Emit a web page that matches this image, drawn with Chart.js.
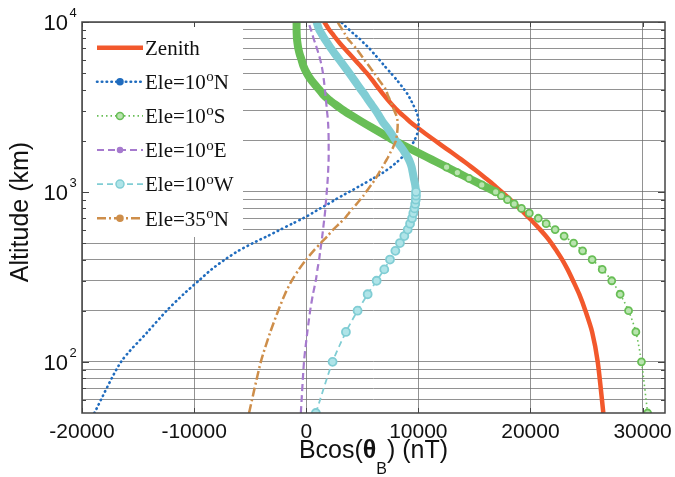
<!DOCTYPE html>
<html>
<head>
<meta charset="utf-8">
<script src="https://cdn.jsdelivr.net/npm/chart.js@4.4.1/dist/chart.umd.min.js"></script>
<style>
    html, body { margin: 0; padding: 0; background: #fff; }
</style>
</head>
<body>
<canvas id="chart-area" width="675" height="477"></canvas>
<script>
// altitude samples (km)
var altKm = [50, 100, 150, 200, 250, 300, 350, 400, 450, 500, 550, 600, 650, 700, 750, 800, 850, 900, 950, 1000,
    1100, 1200, 1300, 1400, 1500, 1600, 1700, 1800, 1900, 2000,
    2200, 2400, 2600, 2800, 3000, 3250, 3500, 3750, 4000,
    4500, 5000, 5500, 6000, 6500, 7000, 7500, 8000, 8500, 9000, 9500, 10000];

// Bcos(theta_B) in nT for each look direction
var zenith = [26500, 26000, 25500, 24900, 24350, 23800, 23310, 22830, 22330, 21860, 21370, 20870, 20380, 19910, 19450, 19030, 18620, 18210, 17820, 17440,
    16730, 16030, 15370, 14740, 14140, 13560, 13010, 12480, 11980, 11510,
    10640, 9880, 9220, 8670, 8180, 7680, 7250, 6870, 6540,
    5950, 5400, 4850, 4330, 3850, 3400, 3000, 2650, 2350, 2050, 1820, 1610];
var ele10N = [-18900, -16520, -14150, -12450, -10950, -9600, -8450, -7250, -6050, -4750, -3450, -2300, -1250, -270, 540, 1250, 1960, 2590, 3210, 3840,
    4950, 5950, 6850, 7550, 8100, 8550, 8950, 9250, 9450, 9640,
    9900, 10000, 10020, 9950, 9790, 9550, 9300, 9050, 8750,
    8150, 7560, 7000, 6520, 6050, 5630, 5150, 4730, 4250, 3840, 3450, 3100];
var ele10S = [30450, 29900, 29400, 28750, 28000, 27250, 26400, 25500, 24650, 23850, 23000, 22200, 21400, 20700, 19900, 19200, 18550, 17950, 17400, 16900,
    15660, 14520, 13480, 12520, 11620, 10780, 9990, 9240, 8540, 7870,
    6800, 5800, 4900, 4100, 3390, 2650, 2000, 1500, 1160,
    500, 50, -250, -420, -590, -710, -780, -830, -850, -860, -860, -860];
var ele10E = [-480, -200, 100, 350, 600, 850, 1000, 1150, 1250, 1350, 1430, 1500, 1560, 1620, 1670, 1710, 1740, 1770, 1800, 1830,
    1880, 1920, 1950, 1970, 1990, 2000, 2000, 2000, 2000, 2000,
    1990, 1970, 1940, 1900, 1850, 1800, 1750, 1710, 1670,
    1580, 1490, 1380, 1250, 1100, 950, 800, 650, 540, 420, 300, 180];
var ele10W = [860, 2350, 3540, 4580, 5480, 6280, 6960, 7470, 7950, 8360, 8750, 9050, 9260, 9440, 9550, 9650, 9720, 9770, 9790, 9790,
    9720, 9600, 9500, 9400, 9250, 9050, 8800, 8550, 8280, 8000,
    7600, 7200, 6800, 6500, 6220, 5850, 5500, 5200, 4880,
    4330, 3840, 3380, 2950, 2560, 2200, 1900, 1610, 1380, 1160, 1030, 920];
var ele35N = [-5100, -4050, -3200, -2500, -1900, -1300, -650, 0, 650, 1300, 1900, 2400, 2950, 3450, 3800, 4140, 4500, 4800, 5100, 5330,
    5800, 6200, 6500, 6800, 7050, 7300, 7500, 7700, 7850, 8000,
    8100, 8150, 8150, 8050, 7860, 7650, 7450, 7250, 7110,
    6550, 6070, 5600, 5180, 4800, 4440, 4050, 3690, 3450, 3240, 3000, 2800];

var seriesNames = ['Zenith', 'Ele=10^oN', 'Ele=10^oS', 'Ele=10^oE', 'Ele=10^oW', 'Ele=35^oN'];

var xTicks = [-20000, -10000, 0, 10000, 20000, 30000];
var yGrid = [60, 70, 80, 90, 100, 200, 300, 400, 500, 600, 700, 800, 900, 1000,
    2000, 3000, 4000, 5000, 6000, 7000, 8000, 9000, 10000];
var yLabels = [100, 1000, 10000];

var RED = 'rgb(242,88,44)', BLUE = 'rgb(32,108,190)', GREEN = 'rgb(104,190,86)',
    PURPLE = 'rgb(166,122,206)', CYAN = 'rgb(128,205,212)', BROWN = 'rgb(206,142,74)';

var points = function(vals) {
    return vals.map(function(v, i) { return {x: v, y: altKm[i]}; });
};
// only keep the samples at or above a given altitude
var pointsFrom = function(vals, fromKm) {
    return points(vals).filter(function(p) { return p.y >= fromKm; });
};

var styles = [
    {color: RED, width: 4.5, dash: [], marker: 0},
    {color: BLUE, width: 2.6, dash: [0.5, 4.3], cap: 'round', marker: 3},
    {color: GREEN, width: 1.6, dash: [1.5, 3], marker: 3.5, fill: 'rgb(185,228,175)'},
    {color: PURPLE, width: 2.2, dash: [7, 4], marker: 2.5},
    {color: CYAN, width: 1.8, dash: [6, 4], marker: 4, fill: 'rgb(175,228,232)'},
    {color: BROWN, width: 2.5, dash: [9, 3, 2, 3], marker: 3}
];

var line = function(label, vals, st, order, markerTop) {
    return {
        label: label,
        data: points(vals),
        borderColor: st.color,
        borderWidth: st.width,
        borderDash: st.dash,
        borderCapStyle: st.cap || 'butt',
        tension: 0.25,
        order: order,
        pointRadius: function(c) {
            if (!markerTop) return 0;
            return altKm[c.dataIndex] <= markerTop ? st.marker : 0;
        },
        pointBorderWidth: 1.8,
        pointBorderColor: st.color,
        pointBackgroundColor: st.fill || st.color
    };
};
// thick band where the markers pile up into a solid curve
var band = function(vals, fromKm, color, order) {
    return {
        label: '',
        data: pointsFrom(vals, fromKm),
        borderColor: color,
        borderWidth: 8,
        tension: 0.25,
        pointRadius: 0,
        order: order
    };
};

var frameAndText = {
    id: 'frameAndText',
    afterDraw: function(chart) {
        var ctx = chart.ctx, a = chart.chartArea;
        var xs = chart.scales.x, ys = chart.scales.y;
        ctx.save();
        ctx.strokeStyle = '#444';
        ctx.lineWidth = 1.5;
        ctx.strokeRect(a.left, a.top, a.right - a.left, a.bottom - a.top);

        // small inward ticks
        ctx.lineWidth = 1;
        ctx.beginPath();
        xTicks.forEach(function(v) {
            var px = Math.round(xs.getPixelForValue(v)) + 0.5;
            ctx.moveTo(px, a.top); ctx.lineTo(px, a.top + 5);
            ctx.moveTo(px, a.bottom); ctx.lineTo(px, a.bottom - 5);
        });
        yGrid.forEach(function(v) {
            var py = Math.round(ys.getPixelForValue(v)) + 0.5;
            var len = yLabels.indexOf(v) >= 0 ? 7 : 4;
            ctx.moveTo(a.left, py); ctx.lineTo(a.left + len, py);
            ctx.moveTo(a.right, py); ctx.lineTo(a.right - len, py);
        });
        ctx.stroke();

        ctx.fillStyle = '#111';
        // x tick labels
        ctx.font = '21px "Liberation Sans", Arial, sans-serif';
        ctx.textAlign = 'center';
        ctx.textBaseline = 'alphabetic';
        xTicks.forEach(function(v) {
            ctx.fillText(String(v), xs.getPixelForValue(v), 438);
        });

        // y tick labels as powers of ten
        yLabels.forEach(function(v) {
            var py = ys.getPixelForValue(v);
            ctx.font = '22px "Liberation Sans", Arial, sans-serif';
            ctx.textAlign = 'right';
            ctx.fillText('10', 68, py + 8);
            ctx.font = '13px "Liberation Sans", Arial, sans-serif';
            ctx.textAlign = 'left';
            ctx.fillText(String(Math.round(Math.log10(v))), 69.5, py - 5);
        });

        // x title: Bcos(theta_B) (nT)
        var big = '25px "Liberation Sans", Arial, sans-serif';
        var bold = 'bold 25px "Liberation Sans", Arial, sans-serif';
        var sub = '16px "Liberation Sans", Arial, sans-serif';
        var parts = [['Bcos(', big, 0], ['\u03b8', bold, 0], ['B', sub, 16], [') (nT)', big, 0]];
        var total = 0;
        parts.forEach(function(p) { ctx.font = p[1]; total += ctx.measureText(p[0]).width; });
        var cx = (a.left + a.right) / 2 - total / 2;
        ctx.textAlign = 'left';
        parts.forEach(function(p) {
            ctx.font = p[1];
            ctx.fillText(p[0], cx, 458 + p[2]);
            cx += ctx.measureText(p[0]).width;
        });

        // y title
        ctx.translate(21, 212);
        ctx.rotate(-Math.PI / 2);
        ctx.font = big;
        ctx.textAlign = 'center';
        ctx.textBaseline = 'middle';
        ctx.fillText('Altitude (km)', 0, 0);
        ctx.restore();
    }
};

var insideLegend = {
    id: 'insideLegend',
    afterDatasetsDraw: function(chart) {
        var ctx = chart.ctx, a = chart.chartArea;
        ctx.save();
        ctx.fillStyle = '#fff';
        ctx.fillRect(a.left + 1, a.top + 1, 160, 214);
        seriesNames.forEach(function(name, i) {
            var st = styles[i];
            var y = 47.7 + i * 34.1;
            ctx.strokeStyle = st.color;
            ctx.lineWidth = st.width;
            ctx.lineCap = st.cap || 'butt';
            ctx.setLineDash(st.dash);
            ctx.beginPath();
            ctx.moveTo(97, y);
            ctx.lineTo(143, y);
            ctx.stroke();
            ctx.setLineDash([]);
            if (st.marker) {
                ctx.beginPath();
                ctx.arc(120, y, st.marker, 0, Math.PI * 2);
                ctx.fillStyle = st.fill || st.color;
                ctx.fill();
                ctx.lineWidth = 1.5;
                ctx.stroke();
            }
            // label with a raised "o"
            var bits = name.split('^o');
            var x = 145;
            ctx.fillStyle = '#111';
            ctx.textAlign = 'left';
            ctx.textBaseline = 'alphabetic';
            ctx.font = '21px "Liberation Serif", "Times New Roman", serif';
            ctx.fillText(bits[0], x, y + 7.3);
            x += ctx.measureText(bits[0]).width;
            if (bits.length > 1) {
                ctx.font = '15px "Liberation Serif", "Times New Roman", serif';
                ctx.fillText('o', x + 0.5, y - 0.5);
                x += ctx.measureText('o').width + 0.5;
                ctx.font = '21px "Liberation Serif", "Times New Roman", serif';
                ctx.fillText(bits[1], x, y + 7.3);
            }
        });
        ctx.restore();
    }
};

var config = {
    type: 'line',
    data: {
        datasets: [
            line('Zenith', zenith, styles[0], 10, 0),
            line('Ele=10\u00b0N', ele10N, styles[1], 9, 0),
            band(ele10S, 1000, GREEN, 8.5),
            line('Ele=10\u00b0S', ele10S, styles[2], 8, 1400),
            line('Ele=10\u00b0E', ele10E, styles[3], 7, 0),
            band(ele10W, 750, CYAN, 6.5),
            line('Ele=10\u00b0W', ele10W, styles[4], 6, 1000),
            line('Ele=35\u00b0N', ele35N, styles[5], 5, 0)
        ]
    },
    options: {
        responsive: false,
        animation: false,
        devicePixelRatio: 1,
        layout: {padding: {left: 82, top: 22, right: 10, bottom: 64}},
        plugins: {legend: {display: false}, tooltip: {enabled: false}},
        scales: {
            x: {
                type: 'linear',
                min: -20000,
                max: 32000,
                afterBuildTicks: function(s) { s.ticks = xTicks.map(function(v) { return {value: v}; }); },
                afterFit: function(s) { s.height = 0; },
                ticks: {display: false},
                border: {display: false},
                grid: {color: 'rgba(110,110,110,0.75)', lineWidth: 1, drawTicks: false}
            },
            y: {
                type: 'logarithmic',
                min: 50,
                max: 10000,
                afterBuildTicks: function(s) { s.ticks = yGrid.map(function(v) { return {value: v}; }); },
                afterFit: function(s) { s.width = 0; },
                ticks: {display: false},
                border: {display: false},
                grid: {color: 'rgba(110,110,110,0.75)', lineWidth: 1, drawTicks: false}
            }
        }
    },
    plugins: [insideLegend, frameAndText]
};

window.onload = function() {
    var ctx = document.getElementById('chart-area').getContext('2d');
    window.myLine = new Chart(ctx, config);
};
</script>
</body>
</html>
